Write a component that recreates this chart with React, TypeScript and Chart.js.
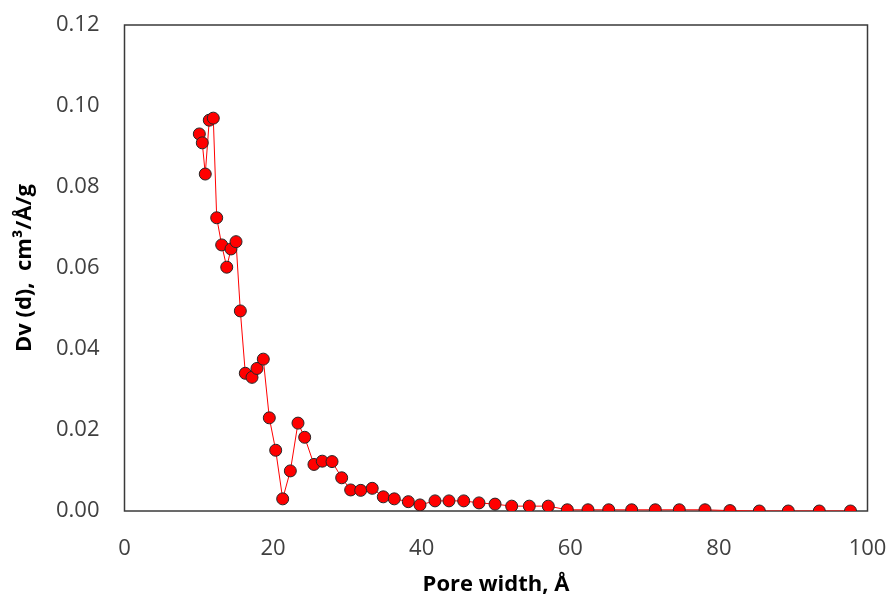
import React, { useEffect, useRef } from "react";
import { Chart, registerables } from "chart.js";

Chart.register(...registerables);

const poreWidth: number[] = [
  10.07, 10.47, 10.87, 11.41, 11.95, 12.41, 13.08, 13.76, 14.33, 15.01,
  15.59, 16.26, 17.16, 17.83, 18.68, 19.49, 20.35, 21.29, 22.32, 23.35,
  24.25, 25.5, 26.62, 27.93, 29.23, 30.44, 31.79, 33.34, 34.83, 36.31,
  38.2, 39.77, 41.79, 43.67, 45.65, 47.71, 49.87, 52.11, 54.48, 57.04,
  59.6, 62.38, 65.17, 68.26, 71.44, 74.67, 78.13, 81.49, 85.44, 89.34,
  93.51, 97.71,
];

const dv: number[] = [
  0.0931, 0.0909, 0.0832, 0.0965, 0.097, 0.0724, 0.0657, 0.0602, 0.0647, 0.0665,
  0.0494, 0.034, 0.033, 0.0352, 0.0375, 0.023, 0.015, 0.003, 0.0099, 0.0217,
  0.0182, 0.0115, 0.0123, 0.0122, 0.0082, 0.0052, 0.0051, 0.0056, 0.0035, 0.003,
  0.0023, 0.0015, 0.0025, 0.0025, 0.0025, 0.002, 0.0017, 0.0012, 0.0012, 0.0012,
  0.0003, 0.0003, 0.0003, 0.0003, 0.0003, 0.0003, 0.0003, 0.0001, 0, 0,
  0, 0,
];

const xTitle = "Pore width, Å";
const yTitle = "Dv (d),  cm³/Å/g";

const FONT = "'Open Sans', 'Liberation Sans', sans-serif";

const boxPlugin = {
  id: "plotBox",
  beforeDatasetsDraw(chart: any) {
    const { ctx, chartArea } = chart;
    ctx.save();
    ctx.strokeStyle = "#3a3a3a";
    ctx.lineWidth = 1.5;
    ctx.strokeRect(chartArea.left, chartArea.top, chartArea.right - chartArea.left, chartArea.bottom - chartArea.top);
    ctx.restore();
  },
};

export default function App() {
  const ref = useRef<HTMLCanvasElement | null>(null);

  useEffect(() => {
    document.body.style.margin = "0";
    if (!ref.current) return;
    const data = poreWidth.map((x, i) => ({ x, y: dv[i] }));
    const chart = new Chart(ref.current, {
      type: "scatter",
      data: {
        datasets: [
          {
            data,
            showLine: true,
            borderColor: "#ff0000",
            borderWidth: 1,
            pointBackgroundColor: "#ff0000",
            pointBorderColor: "#262626",
            pointBorderWidth: 1,
            pointRadius: 6,
            pointHoverRadius: 6,
          },
        ],
      },
      options: {
        animation: false,
        responsive: false,
        events: [],
        layout: { padding: { top: 25, right: 22.5, left: 0, bottom: 0 } },
        plugins: { legend: { display: false }, tooltip: { enabled: false } },
        scales: {
          x: {
            type: "linear",
            min: 0,
            max: 100,
            afterFit: (s: any) => {
              s.height = 87;
              s.paddingLeft = 0;
              s.paddingRight = 0;
            },
            grid: { display: false, drawTicks: false },
            border: { display: false },
            ticks: {
              stepSize: 20,
              padding: 25,
              color: "#404040",
              font: { family: FONT, size: 22 },
            },
            title: {
              display: true,
              text: xTitle,
              color: "#000",
              padding: { top: 0, bottom: 0 },
              font: { family: FONT, size: 22, weight: "bold" },
            },
          },
          y: {
            type: "linear",
            min: 0,
            max: 0.12,
            afterFit: (s: any) => {
              s.width = 124.5;
              s.paddingTop = 0;
              s.paddingBottom = 0;
            },
            grid: { display: false, drawTicks: false },
            border: { display: false },
            ticks: {
              stepSize: 0.02,
              padding: 25,
              color: "#404040",
              font: { family: FONT, size: 22 },
              callback: (v: any) => Number(v).toFixed(2),
            },
            title: {
              display: true,
              text: yTitle,
              color: "#000",
              padding: { top: 12, bottom: 0 },
              font: { family: FONT, size: 22, weight: "bold" },
            },
          },
        },
      },
      plugins: [boxPlugin],
    });
    return () => chart.destroy();
  }, []);

  return (
    <div style={{ position: "absolute", left: 0, top: 0, width: 890, height: 598, background: "#fff" }}>
      <canvas ref={ref} width={890} height={598} style={{ display: "block" }} />
    </div>
  );
}
